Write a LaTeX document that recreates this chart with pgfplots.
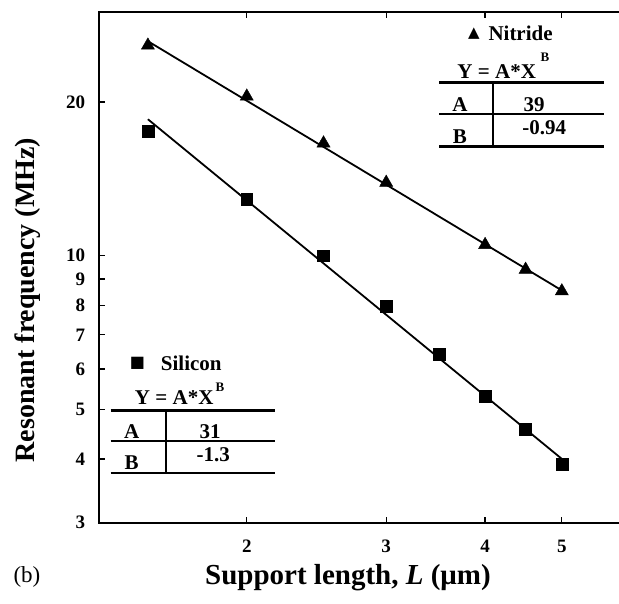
\documentclass[border=0pt]{standalone}
\usepackage{pgfplots}
\pgfplotsset{compat=1.18}
\usepackage{fontspec}
\setmainfont{Liberation Serif}
\newfontfamily\dejavu{DejaVu Sans}
\newcommand\tabfont{\fontsize{21}{21}\selectfont\bfseries}
\newcommand\supfont{\fontsize{13}{13}\selectfont\bfseries}

\begin{document}
\begin{tikzpicture}
\path[use as bounding box] (-98.7pt,-80.3pt) rectangle (520.3pt,522.7pt);
\begin{axis}[
 scale only axis, width=525.8pt, height=510.7pt,
 xmode=log, ymode=log,
 xmin=1.3, xmax=6, ymin=3, ymax=30,
 xtick={2,3,4,5}, xticklabels={2,3,4,5},
 ytick={3,4,5,6,7,8,9,10,20}, yticklabels={3,4,5,6,7,8,9,10,20},
 xminorticks=false, yminorticks=false,
 tick align=inside, major tick length=6pt,
 tick style={black, line width=1.3pt},
 axis line style={line width=2pt},
 /pgf/number format/assume math mode=true,
 tick label style={font=\fontsize{19}{19}\selectfont\bfseries},
 xticklabel style={yshift=-14pt},
 yticklabel style={xshift=-10pt},
 xlabel={Support length, \textit{L} (μm)},
 ylabel={Resonant frequency (MHz)},
 label style={font=\fontsize{28}{28}\selectfont\bfseries},
 xlabel style={font=\fontsize{29}{29}\selectfont\bfseries, at={(axis description cs:0.474,-0.108)}, anchor=center},
 ylabel style={at={(axis description cs:-0.1345,0.436)}, anchor=center},
 clip=false,
]
% fit lines
\addplot[black, line width=1.8pt, no marks] coordinates {(1.5,26.3) (5,8.55)};
\addplot[black, line width=1.8pt, no marks] coordinates {(1.5,18.5) (5,4.0)};
% Nitride
\addplot[only marks, mark=triangle*, mark size=7.6pt, black] coordinates {
 (1.5,25.8) (2,20.5) (2.5,16.6) (3,13.9) (4,10.5) (4.5,9.39) (5,8.52)};
% Silicon
\addplot[only marks, mark=square*, mark size=5.9pt, black] coordinates {
 (1.5,17.5) (2,12.9) (2.5,10.0) (3,7.95) (3.5,6.42) (4,5.31) (4.5,4.57) (5,3.90)};
\end{axis}
% Nitride table
\node[inner sep=0, font=\dejavu\fontsize{15}{15}\selectfont] at (375.1pt,488.7pt) {▲};
\node[anchor=base west, inner sep=0, font=\tabfont] at (389.6pt,482pt) {Nitride};
\node[anchor=base, inner sep=0, font=\tabfont] at (398pt,444.4pt) {Y = A*X};
\node[anchor=base, inner sep=0, font=\supfont] at (446.3pt,461pt) {B};
\draw[line width=2.5pt] (340.3pt,440.4pt) -- (505.3pt,440.4pt);
\draw[line width=1.2pt] (340.3pt,408.7pt) -- (505.3pt,408.7pt);
\draw[line width=2.5pt] (340.3pt,376pt) -- (505.3pt,376pt);
\draw[line width=2pt] (394pt,440.4pt) -- (394pt,376pt);
\node[anchor=base, inner sep=0, font=\tabfont] at (361.3pt,411pt) {A};
\node[anchor=base, inner sep=0, font=\tabfont] at (435.3pt,411pt) {39};
\node[anchor=base, inner sep=0, font=\tabfont] at (361.3pt,379.4pt) {B};
\node[anchor=base, inner sep=0, font=\tabfont] at (445.5pt,387.7pt) {-0.94};
% Silicon table
\node[inner sep=0, font=\dejavu\fontsize{16}{16}\selectfont] at (38.8pt,158.9pt) {■};
\node[anchor=base west, inner sep=0, font=\tabfont] at (62pt,152pt) {Silicon};
\node[anchor=base, inner sep=0, font=\tabfont] at (75.5pt,117.7pt) {Y = A*X};
\node[anchor=base, inner sep=0, font=\supfont] at (121.3pt,131pt) {B};
\draw[line width=2.5pt] (12pt,112pt) -- (176.3pt,112pt);
\draw[line width=1.2pt] (12pt,81.7pt) -- (176.3pt,81.7pt);
\draw[line width=1.8pt] (12pt,50pt) -- (176.3pt,50pt);
\draw[line width=2pt] (67.3pt,112pt) -- (67.3pt,50pt);
\node[anchor=base, inner sep=0, font=\tabfont] at (33pt,84.4pt) {A};
\node[anchor=base, inner sep=0, font=\tabfont] at (111.3pt,84.4pt) {31};
\node[anchor=base, inner sep=0, font=\tabfont] at (33pt,52.7pt) {B};
\node[anchor=base, inner sep=0, font=\tabfont] at (114.6pt,61pt) {-1.3};
% panel label
\node[font=\fontsize{23}{23}\selectfont] at (-71.7pt,-54.3pt) {(b)};
\end{tikzpicture}
\end{document}
